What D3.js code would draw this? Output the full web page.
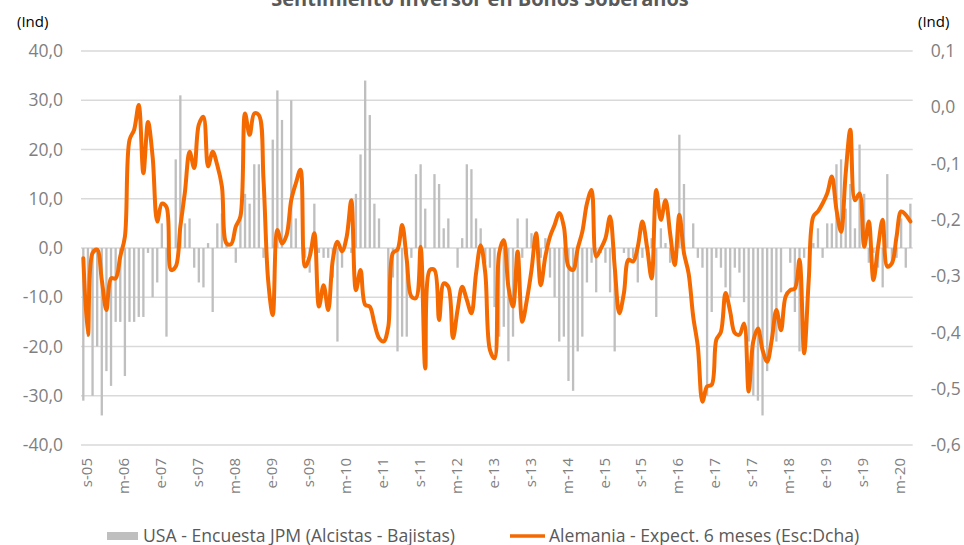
<!DOCTYPE html>
<html>
<head>
<meta charset="utf-8">
<script src="https://cdn.jsdelivr.net/npm/d3@7"></script>
<style>
  html, body { margin: 0; padding: 0; background: #ffffff; }
  svg { display: block; font-family: "Open Sans", "Noto Sans", sans-serif; }
</style>
</head>
<body>
<svg id="chart" width="964" height="545"></svg>
<script>
// ---------------- DATA ----------------
const startYear = 2005, startMonth = 8; // September 2005 (0-based month)
const nMonths = 180;                    // Sep-2005 .. Aug-2020
const categories = d3.range(nMonths).map(i => {
  const m = startMonth + i;
  const y = startYear + Math.floor(m / 12);
  const mm = (m % 12) + 1;
  return y + "-" + (mm < 10 ? "0" + mm : mm);
});

const tickLabels = ["s-05","m-06","e-07","s-07","m-08","e-09","s-09","m-10","e-11","s-11","m-12",
  "e-13","s-13","m-14","e-15","s-15","m-16","e-17","s-17","m-18","e-19","s-19","m-20"];

const leftTicks = [-40, -30, -20, -10, 0, 10, 20, 30, 40];
const rightTicks = [-0.6, -0.5, -0.4, -0.3, -0.2, -0.1, 0.0, 0.1];

// USA - Encuesta JPM (Alcistas - Bajistas)  (left axis)
const usaJPM = [
  -31,-18,-30,-20,-34,-25,-28,-15,-15,-26,
  -15,-15,-14,-14,-1,-10,-7,5,-18,0,
  18,31,5,6,-4,-7,-8,1,-13,5,
  7,1,0,-3,6,11,9,17,17,-2,
  0,22,32,26,0,30,6,0,-2,-5,
  9,-1,-2,-2,-6,-19,-4,0,-1,11,
  19,34,27,9,6,0,-15,-6,-21,-18,
  -18,-2,15,17,8,0,15,13,4,6,
  0,-4,2,17,16,6,4,-3,-4,-12,
  -18,-16,-23,-18,6,-2,6,3,1,-2,
  2,-6,-10,-19,-18,-27,-29,-21,-18,-7,
  -3,-9,-1,-3,-9,-21,0,-1,-3,-2,
  -7,-2,0,2,-14,4,1,-3,0,23,
  13,0,5,-2,-4,-30,-13,-2,-4,-8,
  -10,-4,-5,-11,-19,-30,-31,-34,-25,-19,
  -19,-9,0,-3,-13,-21,-2,0,1,4,
  -2,5,5,17,18,8,13,4,21,11,
  -3,-1,-4,-8,15,-3,-2,6,-4,9
];

// Alemania - Expect. 6 meses (right axis)
const alemania = [
  -0.268,-0.404,-0.259,-0.253,-0.307,-0.360,-0.304,-0.304,-0.265,-0.230,
  -0.058,-0.040,0.004,-0.117,-0.026,-0.088,-0.203,-0.171,-0.177,-0.289,
  -0.283,-0.212,-0.150,-0.079,-0.108,-0.031,-0.017,-0.105,-0.079,-0.103,
  -0.141,-0.242,-0.243,-0.212,-0.194,-0.011,-0.049,-0.011,-0.014,-0.129,
  -0.307,-0.369,-0.218,-0.242,-0.227,-0.165,-0.135,-0.111,-0.283,-0.265,
  -0.224,-0.354,-0.316,-0.360,-0.271,-0.239,-0.256,-0.230,-0.165,-0.325,
  -0.289,-0.351,-0.354,-0.384,-0.410,-0.416,-0.390,-0.259,-0.253,-0.209,
  -0.271,-0.336,-0.339,-0.248,-0.464,-0.289,-0.289,-0.378,-0.313,-0.319,
  -0.410,-0.360,-0.319,-0.342,-0.366,-0.295,-0.245,-0.295,-0.431,-0.446,
  -0.259,-0.236,-0.319,-0.354,-0.256,-0.381,-0.342,-0.289,-0.224,-0.316,
  -0.265,-0.230,-0.209,-0.188,-0.212,-0.283,-0.289,-0.251,-0.221,-0.171,
  -0.147,-0.265,-0.251,-0.233,-0.194,-0.283,-0.366,-0.330,-0.271,-0.274,
  -0.248,-0.203,-0.248,-0.304,-0.147,-0.200,-0.165,-0.224,-0.280,-0.191,
  -0.259,-0.295,-0.372,-0.425,-0.523,-0.496,-0.493,-0.413,-0.399,-0.330,
  -0.363,-0.401,-0.404,-0.384,-0.505,-0.416,-0.393,-0.431,-0.452,-0.413,
  -0.360,-0.396,-0.336,-0.325,-0.322,-0.271,-0.437,-0.307,-0.194,-0.185,
  -0.171,-0.153,-0.123,-0.182,-0.221,-0.117,-0.040,-0.165,-0.153,-0.248,
  -0.203,-0.307,-0.248,-0.200,-0.283,-0.277,-0.230,-0.185,-0.191,-0.203
];

const titleText = "Sentimiento Inversor en Bonos Soberanos";
const legendLabels = ["USA - Encuesta JPM (Alcistas - Bajistas)", "Alemania - Expect. 6 meses (Esc:Dcha)"];

// ---------------- STYLE ----------------
const barColor = "#bfbfbf";
const lineColor = "#f56a00";
const gridColor = "#d9d9d9";
const tickColor = "#7f7f7f";

const plot = { left: 81, right: 912.7, top: 51, bottom: 445 };

const svg = d3.select("#chart");

const x = d3.scaleBand()
  .domain(categories)
  .range([plot.left, plot.right])
  .paddingInner(0.5)
  .paddingOuter(0.25);

const yL = d3.scaleLinear().domain([-40, 40]).range([plot.bottom, plot.top]);
const yR = d3.scaleLinear().domain([-0.6, 0.1]).range([plot.bottom, plot.top]);

const loc = d3.formatLocale({ decimal: ",", thousands: ".", grouping: [3], currency: ["", "€"], minus: "-" });
const fmt1 = loc.format(".1f");

// Gridlines
svg.append("g")
  .selectAll("line")
  .data(leftTicks)
  .join("line")
  .attr("x1", plot.left).attr("x2", plot.right)
  .attr("y1", d => yL(d)).attr("y2", d => yL(d))
  .attr("stroke", gridColor).attr("stroke-width", 1.3);

// Left axis
const gL = svg.append("g")
  .attr("transform", `translate(${plot.left},0)`)
  .call(d3.axisLeft(yL).tickValues(leftTicks).tickFormat(fmt1).tickSize(0).tickPadding(18));
gL.select(".domain").remove();
gL.selectAll("text").attr("fill", tickColor).style("font-size", "17.5px").style("font-family", '"Open Sans", sans-serif');

// Right axis
const gR = svg.append("g")
  .attr("transform", `translate(${plot.right},0)`)
  .call(d3.axisRight(yR).tickValues(rightTicks).tickFormat(fmt1).tickSize(0).tickPadding(18));
gR.select(".domain").remove();
gR.selectAll("text").attr("fill", tickColor).style("font-size", "17.5px").style("font-family", '"Open Sans", sans-serif');

// X axis
const xTickVals = categories.filter((d, i) => i % 8 === 0);
const gX = svg.append("g")
  .attr("transform", `translate(0,${plot.bottom})`)
  .call(d3.axisBottom(x).tickValues(xTickVals).tickFormat((d, i) => tickLabels[i]).tickSize(0));
gX.select(".domain").remove();
gX.selectAll("text")
  .attr("transform", "rotate(-90)")
  .attr("x", -13)
  .attr("y", 0)
  .attr("dy", "0.58em")
  .style("text-anchor", "end")
  .attr("fill", tickColor)
  .style("font-size", "15px")
  .style("font-family", '"Open Sans", sans-serif');

// Bars
svg.append("g")
  .selectAll("rect")
  .data(usaJPM)
  .join("rect")
  .attr("x", (d, i) => x(categories[i]))
  .attr("width", x.bandwidth())
  .attr("y", d => Math.min(yL(d), yL(0)))
  .attr("height", d => Math.abs(yL(d) - yL(0)))
  .attr("fill", barColor);

// Line
const line = d3.line()
  .x((d, i) => x(categories[i]) + x.bandwidth() / 2)
  .y(d => yR(d))
  .curve(d3.curveCatmullRom.alpha(0.5));

svg.append("path")
  .datum(alemania)
  .attr("d", line)
  .attr("fill", "none")
  .attr("stroke", lineColor)
  .attr("stroke-width", 4)
  .attr("stroke-linejoin", "round")
  .attr("stroke-linecap", "round");

// Title (partially cut at top, as in the reference)
svg.append("text")
  .attr("x", 480).attr("y", 6)
  .attr("text-anchor", "middle")
  .attr("fill", "#595959")
  .style("font-size", "20px")
  .style("font-weight", "bold")
  .text(titleText);

// Unit labels
svg.append("text").attr("x", 17).attr("y", 27).attr("fill", "#000")
  .style("font-size", "15px").text("(Ind)");
svg.append("text").attr("x", 918).attr("y", 27).attr("fill", "#000")
  .style("font-size", "15px").text("(Ind)");

// Legend
const lg = svg.append("g");
lg.append("rect").attr("x", 107).attr("y", 532).attr("width", 31).attr("height", 8).attr("fill", barColor);
lg.append("text").attr("x", 143).attr("y", 541.5).attr("fill", "#595959")
  .style("font-size", "17.6px").text(legendLabels[0]);
lg.append("line").attr("x1", 510).attr("x2", 545).attr("y1", 536).attr("y2", 536)
  .attr("stroke", lineColor).attr("stroke-width", 3.5);
lg.append("text").attr("x", 549).attr("y", 541.5).attr("fill", "#595959")
  .style("font-size", "17.6px").text(legendLabels[1]);
</script>
</body>
</html>
